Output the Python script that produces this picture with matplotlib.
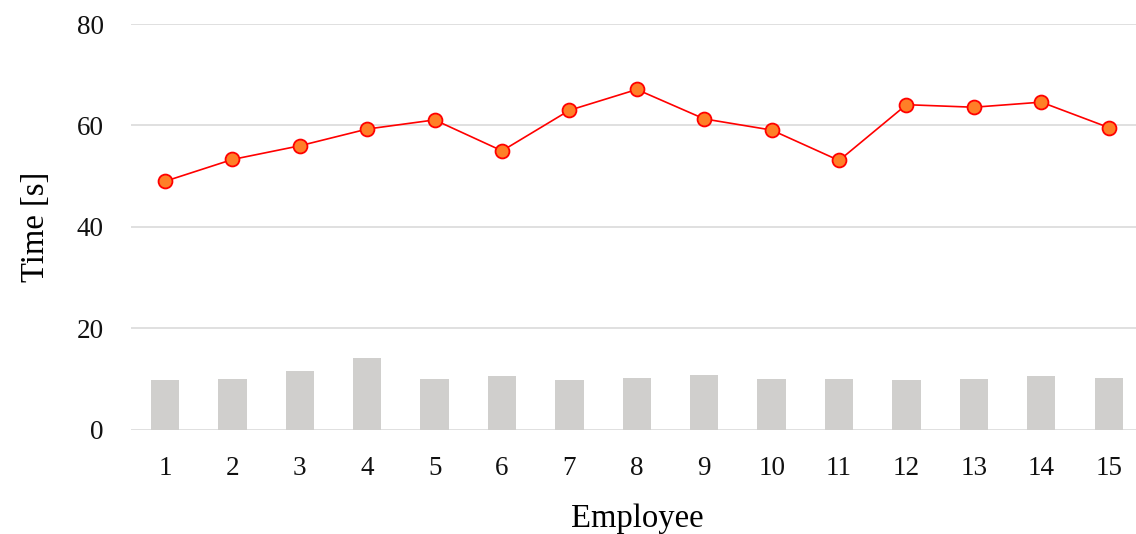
import matplotlib
matplotlib.use("Agg")
import matplotlib.pyplot as plt

employees = [str(i) for i in range(1, 16)]
line_values = [49.0, 53.3, 56.0, 59.3, 61.1, 55.0, 63.0, 67.1, 61.3, 59.1, 53.1, 64.1, 63.6, 64.6, 59.6]
bar_values = [9.9, 10.0, 11.6, 14.2, 10.0, 10.6, 9.9, 10.2, 10.8, 10.0, 10.0, 9.9, 10.0, 10.6, 10.2]
y_ticks = [0, 20, 40, 60, 80]

plt.rcParams['font.family'] = ['Liberation Serif', 'DejaVu Serif']

fig = plt.figure(figsize=(11.36, 5.34), dpi=100)
ax = fig.add_axes([0.1156, 0.195, 0.890, 0.76])

x = list(range(1, len(employees) + 1))
ax.bar(x, bar_values, width=0.42, color='#d0cfcd', zorder=2)
ax.plot(x, line_values, color='#ff0000', linewidth=1.2, marker='o', markersize=10,
        markerfacecolor='#ff7f27', markeredgecolor='#ff0000', markeredgewidth=1.3, zorder=3)

ax.set_xlim(0.5, len(employees) + 0.5)
ax.set_ylim(0, 80)
ax.set_yticks(y_ticks)
ax.set_xticks(x)
ax.set_xticklabels(employees)
ax.yaxis.grid(True, color='#e0e0e0', linewidth=1.4, zorder=0)
ax.set_axisbelow(True)
for s in ax.spines.values():
    s.set_visible(False)
ax.tick_params(axis='both', length=0, labelsize=19.5, colors='#111111')
ax.tick_params(axis='x', pad=19)
ax.tick_params(axis='y', pad=20)
ax.set_xlabel('Employee', fontsize=23.5, labelpad=16)
ax.set_ylabel('Time [s]', fontsize=23.5, labelpad=18)

fig.savefig('out.png', dpi=100)
